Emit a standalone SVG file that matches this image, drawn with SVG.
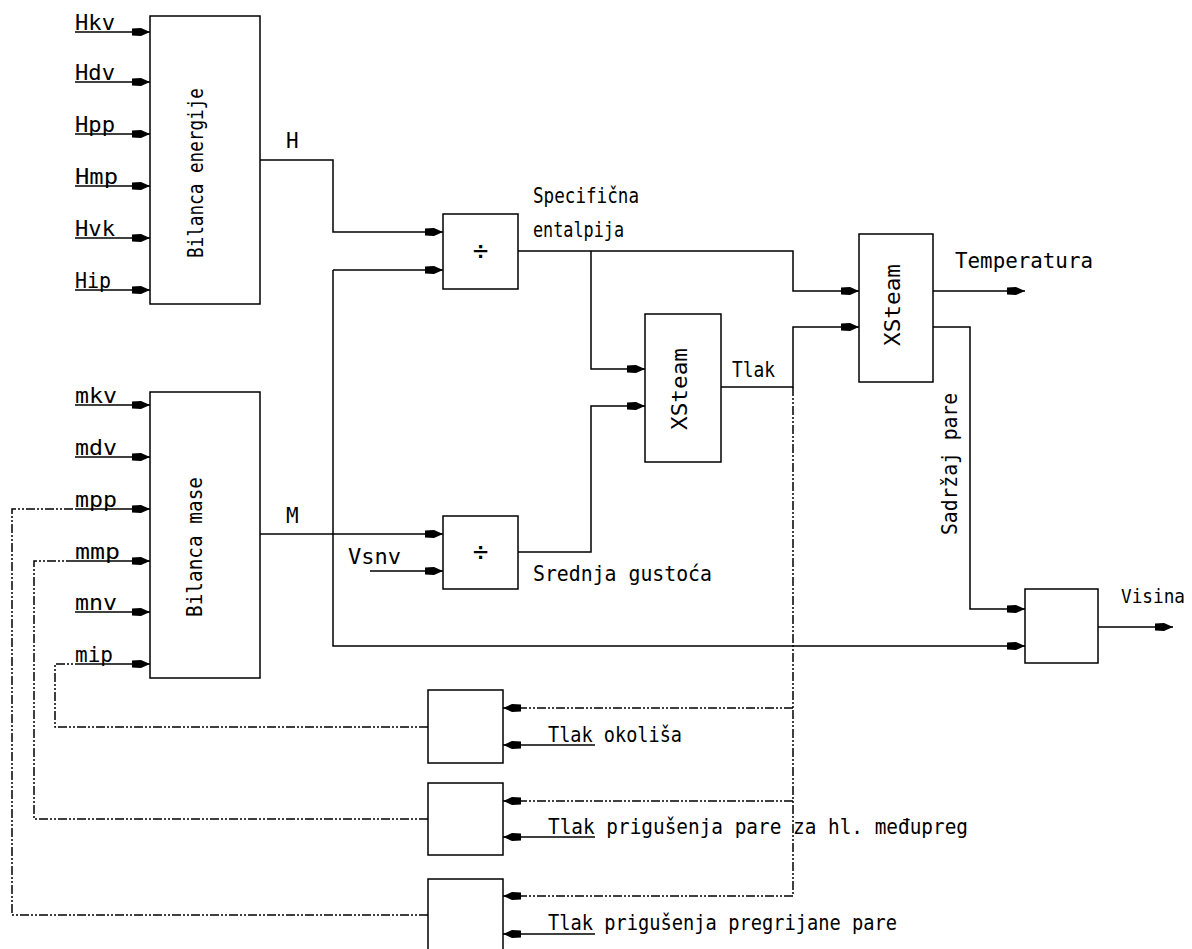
<svg xmlns="http://www.w3.org/2000/svg" width="1192" height="949" viewBox="0 0 1192 949">
<style>
  .box { fill: #ffffff; stroke: #000000; stroke-width: 1.5; }
  .ln { fill: none; stroke: #000000; stroke-width: 1.5; }
  .arr { marker-end: url(#ah); }
  .dash { fill: none; stroke: #000000; stroke-width: 1.5; stroke-dasharray: 9 2 2 2 2 2; }
  text { font-family: "DejaVu Sans Mono", "Liberation Mono", monospace; font-size: 21px; fill: #000000; }
  .mid { text-anchor: middle; }
</style>
<defs>
  <marker id="ah" markerUnits="userSpaceOnUse" markerWidth="20" markerHeight="10" refX="18" refY="5" orient="auto" viewBox="0 0 20 10">
    <polygon points="0,1.6 9,1 18,5 9,9 0,8.4" fill="#000000"/>
  </marker>
</defs>
<rect x="0" y="0" width="1192" height="949" fill="#ffffff"/>

<g id="connectors">
  <path class="ln arr" d="M75,32 H150"/>
  <path class="ln arr" d="M75,82 H150"/>
  <path class="ln arr" d="M75,134 H150"/>
  <path class="ln arr" d="M75,186 H150"/>
  <path class="ln arr" d="M75,238 H150"/>
  <path class="ln arr" d="M75,290 H150"/>
  <path class="ln arr" d="M75,405 H150"/>
  <path class="ln arr" d="M75,457 H150"/>
  <path class="ln arr" d="M75,509 H150"/>
  <path class="ln arr" d="M75,561 H150"/>
  <path class="ln arr" d="M75,612 H150"/>
  <path class="ln arr" d="M75,664 H150"/>
  <path class="ln arr" d="M260,160 H333 V232 H443"/>
  <path class="ln arr" d="M260,534 H443"/>
  <path class="ln arr" d="M333,270 H443"/>
  <path class="ln arr" d="M333,270 V646 H1025"/>
  <path class="ln arr" d="M370,571 H443"/>
  <path class="ln arr" d="M518,251 H793 V291 H859"/>
  <path class="ln arr" d="M591,251 V369 H645"/>
  <path class="ln arr" d="M518,552 H591 V406 H645"/>
  <path class="ln arr" d="M721,387 H793 V327 H859"/>
  <path class="ln arr" d="M933,291 H1025"/>
  <path class="ln arr" d="M933,327 H970 V609 H1025"/>
  <path class="ln arr" d="M1098,627 H1173"/>
  <path class="dash" d="M793,387 V896"/>
  <path class="dash arr" d="M793,708 H503"/>
  <path class="dash arr" d="M793,801 H503"/>
  <path class="dash arr" d="M793,896 H503"/>
  <path class="ln arr" d="M595,745 H503"/>
  <path class="ln arr" d="M595,837 H503"/>
  <path class="ln arr" d="M595,934 H503"/>
  <path class="dash" d="M428,727 H55 V664 H75"/>
  <path class="dash" d="M428,819 H34 V561 H75"/>
  <path class="dash" d="M428,915 H12 V509 H75"/>
</g>

<g id="bilanca-energije">
  <rect class="box" x="150" y="16" width="110" height="288"/>
  <text class="mid" transform="translate(203,173) rotate(-90)" textLength="170" lengthAdjust="spacingAndGlyphs">Bilanca energije</text>
</g>
<g id="bilanca-mase">
  <rect class="box" x="150" y="392" width="110" height="286"/>
  <text class="mid" transform="translate(202,547) rotate(-90)" textLength="140" lengthAdjust="spacingAndGlyphs">Bilanca mase</text>
</g>
<g id="div1">
  <rect class="box" x="443" y="214" width="75" height="75"/>
  <text class="mid" x="480.5" y="260" style="font-size:26px">÷</text>
</g>
<g id="div2">
  <rect class="box" x="443" y="516" width="75" height="73"/>
  <text class="mid" x="480.5" y="561" style="font-size:26px">÷</text>
</g>
<g id="xsteam1">
  <rect class="box" x="645" y="314" width="76" height="148"/>
  <text class="mid" transform="translate(687,389) rotate(-90)" textLength="82" lengthAdjust="spacingAndGlyphs">XSteam</text>
</g>
<g id="xsteam2">
  <rect class="box" x="859" y="234" width="74" height="148"/>
  <text class="mid" transform="translate(900,305) rotate(-90)" textLength="82" lengthAdjust="spacingAndGlyphs">XSteam</text>
</g>
<g id="visina-box">
  <rect class="box" x="1025" y="589" width="73" height="74"/>
</g>
<g id="box-okolisa">
  <rect class="box" x="428" y="690" width="75" height="73"/>
</g>
<g id="box-medupreg">
  <rect class="box" x="428" y="783" width="75" height="72"/>
</g>
<g id="box-pregrijane">
  <rect class="box" x="428" y="879" width="75" height="80"/>
</g>

<g id="labels">
  <text x="75" y="30" textLength="40" lengthAdjust="spacingAndGlyphs">Hkv</text>
  <text x="75" y="80" textLength="40" lengthAdjust="spacingAndGlyphs">Hdv</text>
  <text x="75" y="132" textLength="40" lengthAdjust="spacingAndGlyphs">Hpp</text>
  <text x="75" y="184" textLength="43" lengthAdjust="spacingAndGlyphs">Hmp</text>
  <text x="75" y="236" textLength="40" lengthAdjust="spacingAndGlyphs">Hvk</text>
  <text x="75" y="288" textLength="36" lengthAdjust="spacingAndGlyphs">Hip</text>
  <text x="75" y="403" textLength="42" lengthAdjust="spacingAndGlyphs">mkv</text>
  <text x="75" y="455" textLength="42" lengthAdjust="spacingAndGlyphs">mdv</text>
  <text x="75" y="507" textLength="42" lengthAdjust="spacingAndGlyphs">mpp</text>
  <text x="75" y="559" textLength="45" lengthAdjust="spacingAndGlyphs">mmp</text>
  <text x="75" y="610" textLength="42" lengthAdjust="spacingAndGlyphs">mnv</text>
  <text x="75" y="662" textLength="38" lengthAdjust="spacingAndGlyphs">mip</text>
  <text x="286" y="148">H</text>
  <text x="286" y="523">M</text>
  <text x="533" y="203" textLength="106" lengthAdjust="spacingAndGlyphs">Specifična</text>
  <text x="533" y="237" textLength="91" lengthAdjust="spacingAndGlyphs">entalpija</text>
  <text x="348" y="564" textLength="53" lengthAdjust="spacingAndGlyphs">Vsnv</text>
  <text x="533" y="581" textLength="179" lengthAdjust="spacingAndGlyphs">Srednja gustoća</text>
  <text x="732" y="377" textLength="43" lengthAdjust="spacingAndGlyphs">Tlak</text>
  <text x="955" y="268" textLength="138" lengthAdjust="spacingAndGlyphs">Temperatura</text>
  <text class="mid" transform="translate(957,464) rotate(-90)" textLength="142" lengthAdjust="spacingAndGlyphs">Sadržaj pare</text>
  <text x="1121" y="603" style="font-size:19px" textLength="64" lengthAdjust="spacingAndGlyphs">Visina</text>
  <text x="548" y="742" textLength="134" lengthAdjust="spacingAndGlyphs">Tlak okoliša</text>
  <text x="548" y="834" textLength="420" lengthAdjust="spacingAndGlyphs">Tlak prigušenja pare za hl. međupreg</text>
  <text x="548" y="930" textLength="349" lengthAdjust="spacingAndGlyphs">Tlak prigušenja pregrijane pare</text>
</g>
</svg>
